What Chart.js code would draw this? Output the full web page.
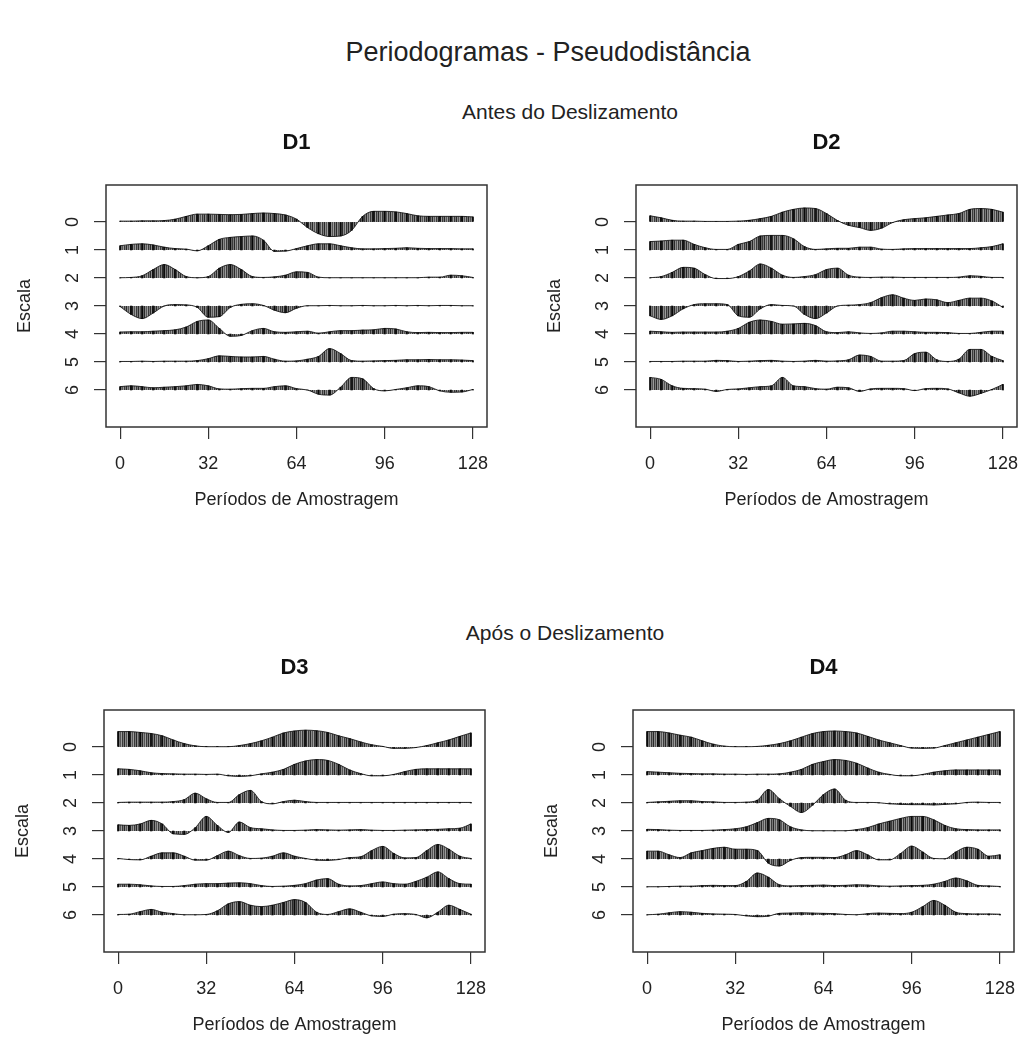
<!DOCTYPE html>
<html>
<head>
<meta charset="utf-8">
<script src="https://cdn.jsdelivr.net/npm/chart.js@4.4.0/dist/chart.umd.min.js"></script>
<style>
  body { margin: 0; background: #fff; width: 1023px; height: 1054px; position: relative; overflow: hidden;
         font-family: "Liberation Sans", Arial, sans-serif; color: #222; }
  .txt { position: absolute; white-space: nowrap; transform: translate(-50%, -50%); }
  canvas { position: absolute; }
</style>
</head>
<body>
<div class="txt" style="left:548px;top:52px;font-size:27px">Periodogramas - Pseudodistância</div>
<div class="txt" style="left:570px;top:112px;font-size:21px">Antes do Deslizamento</div>
<div class="txt" style="left:565px;top:633px;font-size:21px">Após o Deslizamento</div>

<canvas id="c1"></canvas>
<canvas id="c2"></canvas>
<canvas id="c3"></canvas>
<canvas id="c4"></canvas>

<script>
// periodos de amostragem onde a amplitude foi lida (a cada 4)
const periodos = [0, 4, 8, 12, 16, 20, 24, 28, 32, 36, 40, 44, 48, 52, 56, 60, 64,
                  68, 72, 76, 80, 84, 88, 92, 96, 100, 104, 108, 112, 116, 120, 124, 128];
const escalas = [0, 1, 2, 3, 4, 5, 6];
const ticksPeriodos = [0, 32, 64, 96, 128];

// amplitudes por escala (positivo = para cima), uma linha por escala 0..6
const amplitudesD1 = [
  [0.03,0.03,0.04,0.04,0.05,0.10,0.20,0.28, 0.28,0.27,0.26,0.27,0.30,0.32,0.30,0.25, 0.10,-0.20,-0.42,-0.52,-0.50,-0.30,0.20,0.38, 0.38,0.36,0.30,0.22,0.20,0.20,0.20,0.20,0.18],
  [0.15,0.20,0.22,0.18,0.10,0.05,0.03,-0.03, 0.15,0.38,0.45,0.48,0.50,0.35,-0.05,-0.04, 0.05,0.15,0.22,0.22,0.15,0.08,0.04,0.04, 0.05,0.06,0.08,0.06,0.05,0.05,0.05,0.04,0.04],
  [0.01,0.02,0.08,0.30,0.48,0.30,0.05,0.01, 0.05,0.35,0.48,0.30,0.05,0.02,0.04,0.10, 0.22,0.20,0.03,0.01,0.01,0.01,0.01,0.01, 0.01,0.01,0.01,0.01,0.03,0.03,0.10,0.08,0.02],
  [-0.02,-0.30,-0.45,-0.25,0.00,0.05,0.04,-0.05, -0.40,-0.38,-0.05,0.06,0.08,0.02,-0.15,-0.24, -0.08,0.01,0.01,0.02,0.01,0.01,0.02,0.01, 0.01,0.02,0.01,0.02,0.01,0.02,0.02,0.01,0.01],
  [0.07,0.08,0.08,0.10,0.12,0.15,0.25,0.45, 0.50,0.20,-0.08,-0.05,0.12,0.20,0.08,0.06, 0.08,0.10,0.03,0.08,0.12,0.12,0.14,0.15, 0.20,0.18,0.08,0.05,0.06,0.05,0.05,0.06,0.06],
  [0.02,0.02,0.03,0.02,0.03,0.03,0.03,0.05, 0.12,0.22,0.20,0.18,0.18,0.20,0.10,0.03, 0.04,0.10,0.20,0.48,0.30,0.05,0.03,0.04, 0.05,0.06,0.08,0.08,0.09,0.08,0.08,0.07,0.05],
  [0.12,0.15,0.12,0.08,0.10,0.12,0.15,0.20, 0.15,0.04,0.03,0.05,0.06,0.06,0.12,0.15, 0.05,0.00,-0.15,-0.18,0.10,0.45,0.40,0.05, -0.03,0.02,0.08,0.15,0.12,-0.03,-0.08,-0.07,0.02]
];

const amplitudesD2 = [
  [0.22,0.15,0.06,0.03,0.03,0.02,0.02,0.02, 0.03,0.06,0.12,0.20,0.35,0.45,0.50,0.48, 0.30,0.05,-0.12,-0.20,-0.30,-0.22,-0.02,0.08, 0.12,0.15,0.20,0.25,0.30,0.45,0.48,0.45,0.35],
  [0.30,0.32,0.35,0.35,0.20,0.08,0.02,0.02, 0.20,0.30,0.50,0.52,0.52,0.40,0.12,0.02, 0.04,0.06,0.06,0.10,0.10,0.03,0.02,0.04, 0.05,0.05,0.05,0.05,0.05,0.05,0.08,0.12,0.22],
  [0.01,0.05,0.20,0.38,0.35,0.12,-0.02,-0.02, 0.05,0.25,0.50,0.35,0.10,0.02,0.05,0.12, 0.30,0.35,0.10,0.03,0.02,0.03,0.03,0.02, 0.02,0.02,0.02,0.02,0.03,0.08,0.06,0.02,0.02],
  [-0.35,-0.48,-0.35,-0.10,0.05,0.08,0.08,0.05, -0.35,-0.40,-0.10,0.05,0.02,0.00,-0.30,-0.45, -0.25,0.00,0.03,0.05,0.12,0.30,0.40,0.28, 0.20,0.25,0.22,0.12,0.20,0.28,0.28,0.18,-0.05],
  [0.10,0.08,0.06,0.07,0.07,0.07,0.07,0.10, 0.20,0.42,0.50,0.45,0.35,0.36,0.38,0.30, 0.08,0.05,0.08,0.04,0.02,0.04,0.10,0.10, 0.08,0.06,0.06,0.05,0.02,0.02,0.06,0.10,0.10],
  [0.02,0.02,0.02,0.03,0.03,0.03,0.06,0.05, 0.02,0.03,0.05,0.06,0.03,0.02,0.03,0.06, 0.03,0.04,0.08,0.25,0.20,0.03,0.03,0.05, 0.30,0.35,0.08,0.02,0.10,0.45,0.45,0.20,0.05],
  [0.45,0.38,0.15,0.06,0.05,0.03,-0.05,0.02, 0.04,0.08,0.12,0.15,0.45,0.15,0.12,0.05, 0.03,0.10,0.08,-0.05,0.04,0.06,0.06,0.05, -0.02,0.05,0.06,0.04,-0.10,-0.22,-0.12,0.02,0.20]
];

const amplitudesD3 = [
  [0.55,0.55,0.52,0.48,0.40,0.25,0.12,0.04, 0.01,0.01,0.01,0.05,0.12,0.22,0.35,0.50, 0.57,0.60,0.58,0.52,0.40,0.30,0.18,0.08, 0.02,-0.05,-0.05,-0.02,0.05,0.15,0.25,0.38,0.50],
  [0.22,0.20,0.15,0.08,0.05,0.04,0.03,0.03, 0.02,0.03,-0.03,-0.05,-0.03,0.04,0.10,0.20, 0.38,0.50,0.55,0.52,0.38,0.18,0.05,-0.03, -0.03,0.02,0.12,0.20,0.22,0.22,0.22,0.22,0.22],
  [0.02,0.03,0.03,0.03,0.03,0.05,0.12,0.35, 0.15,0.02,0.02,0.30,0.45,0.05,-0.03,0.05, 0.10,0.05,0.02,0.02,0.02,0.02,0.02,0.02, 0.02,0.02,0.02,0.02,0.02,0.02,0.02,0.02,0.02],
  [0.22,0.20,0.25,0.38,0.25,-0.10,-0.12,0.12, 0.52,0.20,-0.05,0.32,0.12,0.08,0.04,0.02, 0.02,0.03,0.05,0.04,0.03,0.04,0.05,0.03, 0.02,0.02,0.03,0.04,0.05,0.06,0.08,0.10,0.25],
  [0.02,-0.02,-0.03,0.10,0.22,0.22,0.10,-0.04, -0.04,0.12,0.28,0.12,0.02,0.03,0.10,0.22, 0.10,0.02,-0.04,-0.05,-0.02,0.05,0.08,0.30, 0.45,0.20,0.04,0.05,0.30,0.52,0.35,0.10,0.02],
  [0.10,0.10,0.08,0.04,0.02,0.02,0.05,0.10, 0.12,0.12,0.14,0.15,0.12,0.05,0.02,0.03, 0.06,0.12,0.25,0.30,0.10,0.04,0.05,0.12, 0.18,0.12,0.10,0.20,0.35,0.54,0.30,0.12,0.10],
  [0.02,0.03,0.12,0.20,0.10,0.05,0.01,0.01, 0.02,0.15,0.40,0.48,0.35,0.30,0.35,0.45, 0.55,0.45,0.10,0.02,0.12,0.22,0.10,-0.03, -0.05,0.03,0.05,0.02,-0.10,0.10,0.35,0.20,0.03]
];

const amplitudesD4 = [
  [0.55,0.55,0.50,0.42,0.35,0.22,0.10,0.03, 0.01,0.01,0.02,0.06,0.12,0.22,0.35,0.48, 0.55,0.57,0.55,0.50,0.38,0.25,0.15,0.05, -0.04,-0.05,-0.04,0.05,0.15,0.25,0.35,0.45,0.55],
  [0.12,0.10,0.08,0.06,0.05,0.04,0.04,0.03, 0.03,0.02,0.03,0.03,0.04,0.10,0.20,0.38, 0.48,0.55,0.52,0.42,0.25,0.10,0.02,-0.03, -0.03,0.02,0.10,0.15,0.18,0.18,0.18,0.18,0.18],
  [0.02,0.04,0.06,0.08,0.08,0.05,0.04,0.02, 0.02,0.03,0.10,0.48,0.15,-0.12,-0.34,-0.08, 0.30,0.50,0.10,0.02,0.02,0.01,-0.03,-0.05, -0.06,-0.06,-0.07,-0.05,-0.03,0.02,0.03,0.02,0.02],
  [0.06,0.05,0.03,0.02,0.02,0.02,0.03,0.05, 0.08,0.15,0.30,0.45,0.40,0.15,0.04,0.01, 0.01,0.01,0.01,0.05,0.12,0.25,0.35,0.45, 0.52,0.52,0.40,0.20,0.08,0.05,0.04,0.04,0.04],
  [0.28,0.28,0.15,0.05,0.22,0.30,0.38,0.42, 0.35,0.35,0.30,-0.15,-0.25,-0.05,0.05,0.06, 0.06,0.05,0.15,0.30,0.15,-0.03,-0.03,0.20, 0.46,0.25,0.02,0.01,0.25,0.42,0.35,0.10,0.15],
  [0.01,0.01,0.02,0.03,0.03,0.05,0.06,0.05, 0.05,0.20,0.50,0.35,0.08,0.04,0.05,0.06, 0.07,0.05,0.06,0.08,0.07,0.04,0.03,0.04, 0.05,0.06,0.10,0.20,0.32,0.22,0.06,0.04,0.02],
  [0.01,0.03,0.08,0.12,0.10,0.06,0.04,0.03, 0.02,-0.03,-0.06,-0.04,0.06,0.07,0.08,0.07, 0.06,0.05,0.02,0.01,0.05,0.07,0.06,0.05, 0.10,0.30,0.52,0.35,0.10,0.05,0.04,0.04,0.03]
];

const paineis = [
  { id: 'c1', titulo: 'D1', amp: amplitudesD1, left: 106, top: 185 },
  { id: 'c2', titulo: 'D2', amp: amplitudesD2, left: 636, top: 185 },
  { id: 'c3', titulo: 'D3', amp: amplitudesD3, left: 104, top: 710 },
  { id: 'c4', titulo: 'D4', amp: amplitudesD4, left: 633, top: 710 }
];

const LARG_EIXO_Y = 106, ALT_EIXO_X = 100, PAD_TOPO = 60, PAD_DIR = 22;
const LARG_AREA = 381, ALT_AREA = 242;
const fonte = '"Liberation Sans", Arial, sans-serif';

// textura de riscos verticais, parecida com o original
const tile = document.createElement('canvas');
tile.width = 6; tile.height = 4;
const tctx = tile.getContext('2d');
['#2a2a2a', '#8c8c8c', '#555', '#9c9c9c', '#3a3a3a', '#7a7a7a'].forEach((c, i) => {
  tctx.fillStyle = c; tctx.fillRect(i, 0, 1, 4);
});
const textura = tctx.createPattern(tile, 'repeat');

// moldura (box) e titulo do painel
const moldura = {
  id: 'moldura',
  afterDraw(chart, args, opts) {
    const { ctx, chartArea: a } = chart;
    ctx.save();
    ctx.strokeStyle = '#333';
    ctx.lineWidth = 1.5;
    ctx.strokeRect(a.left, a.top, a.right - a.left, a.bottom - a.top);
    ctx.fillStyle = '#111';
    ctx.font = 'bold 22px ' + fonte;
    ctx.textAlign = 'center';
    ctx.textBaseline = 'middle';
    ctx.fillText(opts.titulo, (a.left + a.right) / 2, a.top - 42);
    ctx.restore();
  }
};

function montaDatasets(amp) {
  const ds = [];
  amp.forEach((linha, esc) => {
    ds.push({
      type: 'line',
      data: periodos.map((p, i) => ({ x: p, y: esc - linha[i] })),
      fill: { value: esc },
      backgroundColor: textura,
      borderColor: 'rgba(25,25,25,0.9)',
      borderWidth: 1,
      pointRadius: 0,
      cubicInterpolationMode: 'monotone',
      order: 2
    });
    ds.push({
      type: 'bar',
      data: periodos.map((p, i) => ({ x: p, y: [esc, esc - linha[i]] })),
      backgroundColor: 'rgba(0,0,0,0.85)',
      barThickness: 1.5,
      grouped: false,
      order: 1
    });
  });
  return ds;
}

paineis.forEach(p => {
  const cv = document.getElementById(p.id);
  const w = LARG_EIXO_Y + LARG_AREA + PAD_DIR;
  const h = PAD_TOPO + ALT_AREA + ALT_EIXO_X;
  cv.width = w; cv.height = h;
  cv.style.left = (p.left - LARG_EIXO_Y) + 'px';
  cv.style.top = (p.top - PAD_TOPO) + 'px';

  new Chart(cv.getContext('2d'), {
    type: 'bar',
    data: { datasets: montaDatasets(p.amp) },
    plugins: [moldura],
    options: {
      responsive: false,
      animation: false,
      events: [],
      layout: { padding: { top: PAD_TOPO, right: PAD_DIR, left: 0, bottom: 0 } },
      plugins: {
        legend: { display: false },
        tooltip: { enabled: false },
        moldura: { titulo: p.titulo }
      },
      scales: {
        x: {
          type: 'linear', min: -5.12, max: 133.12, offset: false,
          afterBuildTicks: s => { s.ticks = ticksPeriodos.map(v => ({ value: v })); },
          afterFit: s => { s.height = ALT_EIXO_X; },
          grid: { drawOnChartArea: false, drawTicks: true, tickLength: 12, color: '#333', lineWidth: 1.2, offset: false },
          border: { display: false },
          ticks: { maxRotation: 0, autoSkip: false, padding: 14, color: '#222', font: { family: fonte, size: 18 } },
          title: { display: true, text: 'Períodos de Amostragem', color: '#222', font: { family: fonte, size: 18 }, padding: { top: 0, bottom: 16 } }
        },
        y: {
          type: 'linear', reverse: true, min: -1.32, max: 7.32,
          afterBuildTicks: s => { s.ticks = escalas.map(v => ({ value: v })); },
          afterFit: s => { s.width = LARG_EIXO_Y; },
          grid: { drawOnChartArea: false, drawTicks: true, tickLength: 12, color: '#333', lineWidth: 1.2 },
          border: { display: false },
          ticks: { minRotation: 90, maxRotation: 90, crossAlign: 'center', padding: 16, color: '#222', font: { family: fonte, size: 18 } },
          title: { display: true, text: 'Escala', color: '#222', font: { family: fonte, size: 18 }, padding: { top: 14, bottom: 0 } }
        }
      }
    }
  });
});
</script>
</body>
</html>
